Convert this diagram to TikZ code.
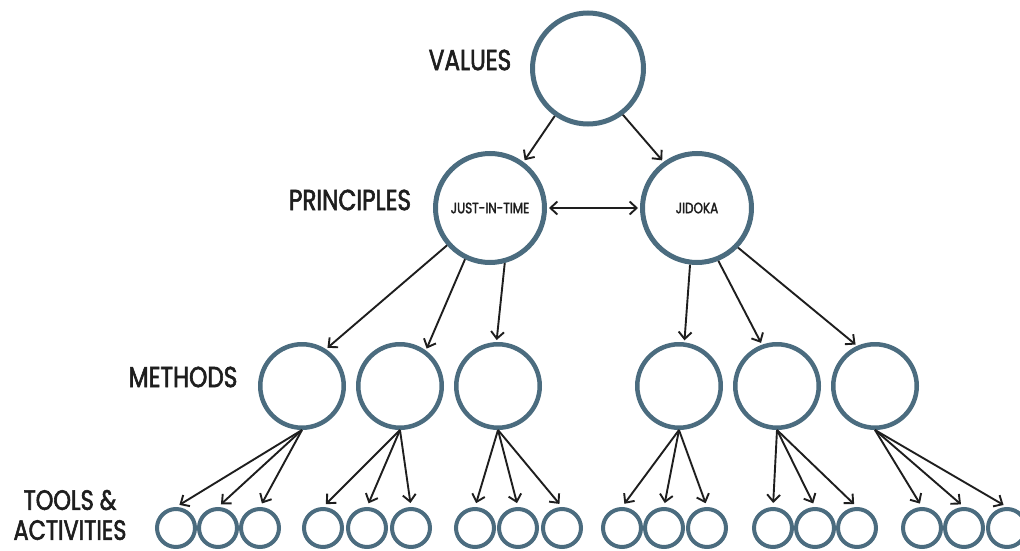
\documentclass[tikz,border=0pt]{standalone}
\usepackage{fontspec}
\newfontfamily\hand[FakeStretch=0.8, FakeBold=2]{Poppins}
\usetikzlibrary{arrows.meta}
\definecolor{ring}{HTML}{4B6C7F}
\definecolor{ink}{HTML}{1E1E1E}
\tikzset{
  bigring/.style={circle, draw=ring, line width=5pt, fill=white, minimum size=109pt, inner sep=0pt,
    font=\hand\fontsize{15}{16}\selectfont, text=ink},
  midring/.style={circle, draw=ring, line width=4.5pt, fill=white, minimum size=83.5pt, inner sep=0pt},
  smallring/.style={circle, draw=ring, line width=4pt, fill=white, minimum size=38pt, inner sep=0pt},
  arr/.style={draw=ink, line width=1.9pt, -{Straight Barb[length=7pt,width=13pt]}, shorten >=2pt},
  darr/.style={draw=ink, line width=1.9pt, {Straight Barb[length=7pt,width=13pt]}-{Straight Barb[length=7pt,width=13pt]},
    shorten >=2pt, shorten <=2pt},
  level/.style={font=\hand\fontsize{29}{30}\selectfont, text=ink, align=center, inner sep=0pt}
}
\begin{document}
\begin{tikzpicture}[x=1pt, y=-1pt]
\useasboundingbox (0,0) rectangle (1020,551);

% level labels
\node[level] (lvalues) at (470,60) {VALUES};
\node[level] (lprinc) at (350,200) {PRINCIPLES};
\node[level] (lmeth) at (183,377) {METHODS};
\node[level, font=\hand\fontsize{28}{30}\selectfont] (ltools) at (70,515) {TOOLS \&\\ACTIVITIES};

% top two levels
\node[bigring, minimum size=111pt] (values) at (588,68.5) {};
\node[bigring] (jit) at (490,208) {JUST-IN-TIME};
\node[bigring] (jidoka) at (697,208) {JIDOKA};

% methods
\foreach \i/\x in {1/302,2/400,3/498,4/679,5/777,6/875}
  \node[midring] (m\i) at (\x,386) {};

% tools and activities
\foreach \g/\a/\b/\c in {1/176/218/260, 2/323/367/411, 3/475/518/562,
                         4/622/664/707, 5/773/815/857, 6/922/964/1007} {
  \node[smallring] (t\g a) at (\a,528) {};
  \node[smallring] (t\g b) at (\b,528) {};
  \node[smallring] (t\g c) at (\c,528) {};
}

% values to principles
\draw[arr] (values.235) -- (jit.54);
\draw[arr] (values.307) -- (jidoka.126);
\draw[darr] (jit.east) -- (jidoka.west);

% principles to methods
\draw[arr] (jit.221) -- (m1.57);
\draw[arr] (jit.244) -- (m2.54);
\draw[arr] (jit.285) -- (m3.92);
\draw[arr] (jidoka.263) -- (m4.83);
\draw[arr] (jidoka.292) -- (m5.110);
\draw[arr] (jidoka.316) -- (m6.114);

% methods to tools and activities
\foreach \g in {1,...,6}
  \foreach \t in {a,b,c}
    \draw[arr, shorten >=4pt] (m\g.south) -- (t\g\t.north);
\end{tikzpicture}
\end{document}
